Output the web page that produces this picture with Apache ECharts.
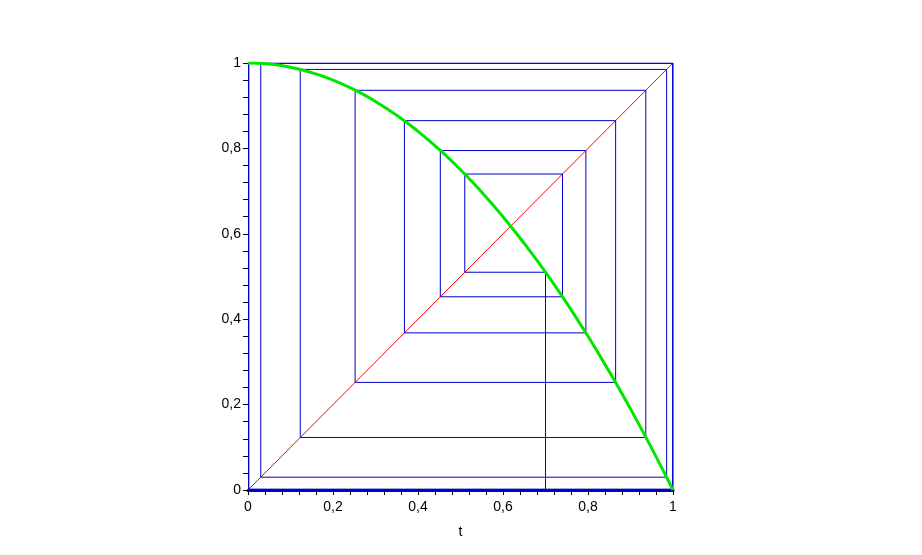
<!DOCTYPE html>
<html><head><meta charset="utf-8">
<script src="https://cdn.jsdelivr.net/npm/echarts@6/dist/echarts.min.js"></script>
<style>html,body{margin:0;padding:0;background:#fff}#c{width:922px;height:555px}</style>
</head><body><div id="c"></div>
<script>
// Curve samples (t, f(t))
var curveT = [0, 0.05, 0.1, 0.15, 0.2, 0.25, 0.3, 0.35, 0.4, 0.45, 0.5, 0.55, 0.6, 0.65, 0.7, 0.75, 0.8, 0.85, 0.9, 0.95, 1];
var curveY = [1, 0.9975, 0.99, 0.9775, 0.96, 0.9375, 0.91, 0.8775, 0.84, 0.7975, 0.75, 0.6975, 0.64, 0.5775, 0.51, 0.4375, 0.36, 0.2775, 0.19, 0.0975, 0];
// Cobweb iterates
var iterates = [0.7, 0.51, 0.74, 0.4525, 0.795, 0.368, 0.865, 0.252, 0.936, 0.123, 0.985, 0.03, 0.999, 0.002, 1, 0];
var diagonal = [[0, 0], [1, 1]];
var tickLabels = ['0', '0,2', '0,4', '0,6', '0,8', '1'];

var curve = curveT.map(function (t, i) { return [t, curveY[i]]; });
var web = [[iterates[0], 0]];
for (var i = 0; i < iterates.length - 1; i++) {
  web.push([iterates[i], iterates[i + 1]]);
  web.push([iterates[i + 1], iterates[i + 1]]);
}
function lab(v) { return tickLabels[Math.round(v / 0.2)]; }
var blue = '#0000cc';
var font = 'Liberation Sans';
var chart = echarts.init(document.getElementById('c'));
chart.setOption({
  animation: false,
  grid: { left: 248, top: 63, width: 425, height: 427 },
  xAxis: {
    type: 'value', min: 0, max: 1, interval: 0.2,
    name: 't', nameLocation: 'middle', nameGap: 35,
    nameTextStyle: { color: '#000', fontSize: 14, fontFamily: font },
    axisLine: { lineStyle: { color: blue, width: 3 } },
    axisTick: { show: true, length: 5, lineStyle: { color: '#000' } },
    minorTick: { show: true, splitNumber: 5, length: 5, lineStyle: { color: '#000' } },
    splitLine: { show: false },
    axisLabel: { formatter: lab, color: '#000', fontSize: 14, fontFamily: font, margin: 10 }
  },
  yAxis: {
    type: 'value', min: 0, max: 1, interval: 0.2,
    axisLine: { show: true, lineStyle: { color: blue, width: 1 } },
    axisTick: { show: true, length: 5, lineStyle: { color: '#000' } },
    minorTick: { show: true, splitNumber: 5, length: 5, lineStyle: { color: '#000' } },
    splitLine: { show: false },
    axisLabel: { formatter: lab, color: '#000', fontSize: 14, fontFamily: font, margin: 7 }
  },
  series: [
    { type: 'line', data: diagonal, symbol: 'none', lineStyle: { color: '#ff0000', width: 1 }, z: 1 },
    { type: 'line', data: web, symbol: 'none', lineStyle: { color: blue, width: 1 }, z: 2 },
    { type: 'line', data: curve, symbol: 'none', smooth: true, lineStyle: { color: '#00e600', width: 3 }, z: 3 }
  ]
});
</script></body></html>
